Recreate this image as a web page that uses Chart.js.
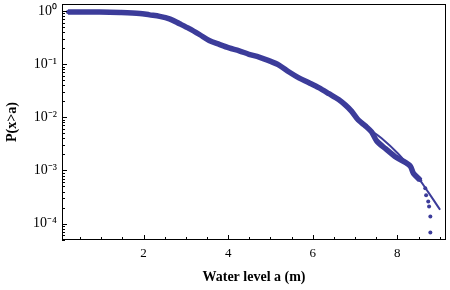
<!DOCTYPE html>
<html>
<head>
<meta charset="utf-8">
<script src="https://cdn.jsdelivr.net/npm/chart.js@4"></script>
<style>
  html, body { margin: 0; padding: 0; background: #fff; }
  canvas { display: block; }
</style>
</head>
<body>
<canvas id="chart" width="450" height="290"></canvas>
<script>
// observed exceedance probabilities
const obsLevel = [0.21, 0.49, 0.96, 1.44, 1.91, 2.14, 2.38, 2.61, 2.85, 3.08, 3.32, 3.55, 3.79, 4.02,
  4.26, 4.49, 4.73, 4.96, 5.20, 5.44, 5.67, 5.91, 6.14, 6.38, 6.61, 6.78, 6.92, 7.08, 7.25, 7.39,
  7.51, 7.72, 7.98, 8.19, 8.31, 8.38, 8.54, 8.66, 8.68, 8.73, 8.75, 8.78, 8.78];
const obsProb = [0.958, 0.958, 0.958, 0.938, 0.899, 0.843, 0.791, 0.711, 0.574, 0.464, 0.360, 0.278,
  0.235, 0.202, 0.178, 0.153, 0.135, 0.116, 0.0958, 0.0711, 0.0551, 0.0445, 0.0360, 0.0278, 0.0215,
  0.0167, 0.0129, 0.0088, 0.00681, 0.00528, 0.00359, 0.00256, 0.00174, 0.00141, 0.00119, 0.00088,
  0.00065, 0.00046, 0.00034, 0.00026, 0.00021, 0.000135, 0.000068];

// fitted curve
const fitLevel = [0.21, 0.96, 1.91, 2.38, 2.85, 3.32, 3.79, 4.26, 4.73, 5.20, 5.67, 6.14, 6.61, 6.92,
  7.15, 7.62, 8.02, 8.42, 8.73, 9.01];
const fitProb = [0.958, 0.958, 0.899, 0.791, 0.574, 0.360, 0.235, 0.178, 0.135, 0.0958, 0.0551, 0.0360,
  0.0215, 0.0129, 0.00774, 0.00408, 0.00206, 0.00088, 0.00039, 0.000182];

const xTicks = [2, 4, 6, 8];
const yTicks = [1e-4, 1e-3, 1e-2, 1e-1, 1];
const yTickLabels = ['10\u207B\u2074', '10\u207B\u00B3', '10\u207B\u00B2', '10\u207B\u00B9', '10\u2070'];

const blue = '#3c3c9a';
const serif = "'Liberation Serif', 'Times New Roman', serif";

// frame + inward ticks, like the original plot
const frameTicks = {
  id: 'frameTicks',
  afterDraw(chart) {
    const { ctx, chartArea: a, scales: { x, y } } = chart;
    ctx.save();
    ctx.strokeStyle = '#000';
    ctx.lineWidth = 1;
    ctx.strokeRect(a.left + 0.5, a.top + 0.5, a.right - a.left - 1, a.bottom - a.top - 1);
    ctx.beginPath();
    for (let v = 0.5; v < x.max; v += 0.5) {
      const px = Math.round(x.getPixelForValue(v)) + 0.5;
      const len = v % 2 === 0 ? 5 : 3;
      ctx.moveTo(px, a.bottom);
      ctx.lineTo(px, a.bottom - len);
    }
    for (let k = -5; k <= 0; k++) {
      for (let m = 1; m <= 9; m++) {
        const v = m * Math.pow(10, k);
        if (v < y.min || v > y.max) continue;
        const py = Math.round(y.getPixelForValue(v)) + 0.5;
        ctx.moveTo(a.left, py);
        ctx.lineTo(a.left + (m === 1 ? 5 : 3), py);
      }
    }
    ctx.stroke();
    ctx.restore();
  }
};

new Chart(document.getElementById('chart'), {
  type: 'scatter',
  data: {
    datasets: [
      {
        label: 'observed',
        data: obsLevel.map((v, i) => ({ x: v, y: obsProb[i] })),
        showLine: true,
        borderColor: blue,
        backgroundColor: blue,
        borderWidth: 5.5,
        tension: 0.3,
        pointRadius: 2,
        pointBorderWidth: 0,
        segment: {
          borderColor: c => c.p1.parsed.x > 8.6 ? 'transparent' : blue
        }
      },
      {
        label: 'fit',
        data: fitLevel.map((v, i) => ({ x: v, y: fitProb[i] })),
        showLine: true,
        borderColor: blue,
        borderWidth: 2,
        pointRadius: 0,
        cubicInterpolationMode: 'monotone'
      }
    ]
  },
  options: {
    responsive: false,
    animation: false,
    layout: { padding: { top: 1, right: 2, left: 0, bottom: 0 } },
    plugins: { legend: { display: false }, tooltip: { enabled: false } },
    scales: {
      x: {
        type: 'linear',
        min: 0.07,
        max: 9.15,
        afterBuildTicks: s => { s.ticks = xTicks.map(v => ({ value: v })); },
        afterFit: s => { s.height = 50; s.paddingLeft = 0; s.paddingRight = 0; },
        grid: { display: false, drawTicks: false },
        border: { display: false },
        ticks: { color: '#000', padding: 6, font: { family: serif, size: 13 } },
        title: {
          display: true,
          text: 'Water level a (m)',
          color: '#000',
          padding: { top: 8 },
          font: { family: serif, size: 14, weight: 'bold' }
        }
      },
      y: {
        type: 'logarithmic',
        min: 4.9e-5,
        max: 1.35,
        afterBuildTicks: s => { s.ticks = yTicks.map(v => ({ value: v })); },
        afterFit: s => { s.width = 62; s.paddingTop = 0; s.paddingBottom = 0; },
        grid: { display: false, drawTicks: false },
        border: { display: false },
        ticks: {
          color: '#000',
          padding: 5,
          font: { family: serif, size: 14 },
          callback: v => yTickLabels[yTicks.indexOf(v)] ?? ''
        },
        title: {
          display: true,
          text: 'P(x>a)',
          color: '#000',
          padding: { bottom: 2 },
          font: { family: serif, size: 14, weight: 'bold' }
        }
      }
    }
  },
  plugins: [frameTicks]
});
</script>
</body>
</html>
